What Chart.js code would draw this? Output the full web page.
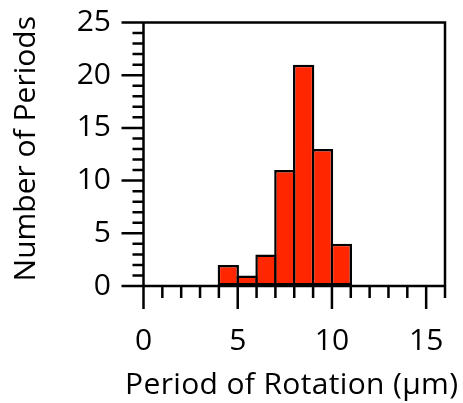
<!DOCTYPE html>
<html>
<head>
<meta charset="utf-8">
<script src="https://cdn.jsdelivr.net/npm/chart.js@4.4.1/dist/chart.umd.min.js"></script>
<style>
  body { margin: 0; background: #fff; }
</style>
</head>
<body>
<canvas id="histogram" width="463" height="403"></canvas>
<script>
// histogram bins (left edge of each 1 µm bin) and counts
const binStarts = [4, 5, 6, 7, 8, 9, 10];
const counts = [2, 1, 3, 11, 21, 13, 4];
const xTickLabels = ['0', '5', '10', '15'];
const yTickLabels = ['0', '5', '10', '15', '20', '25'];
const xTitle = 'Period of Rotation (µm)';
const yTitle = 'Number of Periods';

const FONT = "'Open Sans', sans-serif";
const LINE = 2.5;

// frame plus major/minor ticks outside the plot area, and both axis titles
// (drawn here so Chart.js doesn't squeeze them to the plot width)
const axisFrame = {
    id: 'axisFrame',
    afterDatasetsDraw(chart) {
        const { ctx, chartArea: a, scales: { x, y } } = chart;
        ctx.save();
        ctx.strokeStyle = '#000';
        ctx.lineWidth = LINE;
        ctx.lineCap = 'butt';
        ctx.beginPath();
        ctx.rect(a.left, a.top, a.right - a.left, a.bottom - a.top);
        for (let v = x.min; v <= x.max; v++) {
            const px = x.getPixelForValue(v);
            ctx.moveTo(px, a.bottom);
            ctx.lineTo(px, a.bottom + (v % 5 === 0 ? 23 : 12));
        }
        for (let v = y.min; v <= y.max; v++) {
            const py = y.getPixelForValue(v);
            ctx.moveTo(a.left, py);
            ctx.lineTo(a.left - (v % 5 === 0 ? 22 : 11), py);
        }
        ctx.stroke();

        ctx.fillStyle = '#000';
        ctx.font = '30px ' + FONT;
        ctx.textAlign = 'center';
        ctx.textBaseline = 'alphabetic';
        ctx.letterSpacing = '0.35px';
        ctx.fillText(xTitle, (a.left + a.right) / 2 - 2.5, chart.height - 8.7);

        ctx.letterSpacing = '0px';
        ctx.translate(35, (a.top + a.bottom) / 2 - 5.5);
        ctx.rotate(-Math.PI / 2);
        ctx.fillText(yTitle, 0, 0);
        ctx.restore();
    }
};

// tick marks come from the plugin; the built-in ones only reserve the space
const hiddenTicks = len => ({
    display: true,
    drawOnChartArea: false,
    drawTicks: true,
    tickLength: len,
    tickColor: 'rgba(0,0,0,0)'
});

const config = {
    type: 'bar',
    data: {
        datasets: [{
            data: binStarts.map((b, i) => ({ x: b + 0.5, y: counts[i] })),
            backgroundColor: '#ff2600',
            borderColor: '#000',
            borderWidth: 2.5,
            borderSkipped: false,
            barPercentage: 1.13,
            categoryPercentage: 1
        }]
    },
    options: {
        responsive: false,
        animation: false,
        layout: { padding: { top: 22.5, right: 18 } },
        plugins: { legend: { display: false }, tooltip: { enabled: false } },
        scales: {
            x: {
                type: 'linear',
                min: 0,
                max: 16,
                offset: false,
                afterFit: s => { s.height = 117; },
                grid: hiddenTicks(34),
                border: { display: false },
                ticks: {
                    stepSize: 1,
                    autoSkip: false,
                    maxRotation: 0,
                    padding: 3,
                    color: '#000',
                    font: { family: FONT, size: 30 },
                    callback: v => xTickLabels.includes(String(v)) ? String(v) : ''
                }
            },
            y: {
                min: 0,
                max: 25,
                afterFit: s => { s.width = 143.5; },
                grid: hiddenTicks(30),
                border: { display: false },
                ticks: {
                    stepSize: 1,
                    autoSkip: false,
                    padding: 2.5,
                    color: '#000',
                    font: { family: FONT, size: 30 },
                    callback: v => yTickLabels.includes(String(v)) ? String(v) : ''
                }
            }
        }
    },
    plugins: [axisFrame]
};

new Chart(document.getElementById('histogram'), config);
</script>
</body>
</html>
